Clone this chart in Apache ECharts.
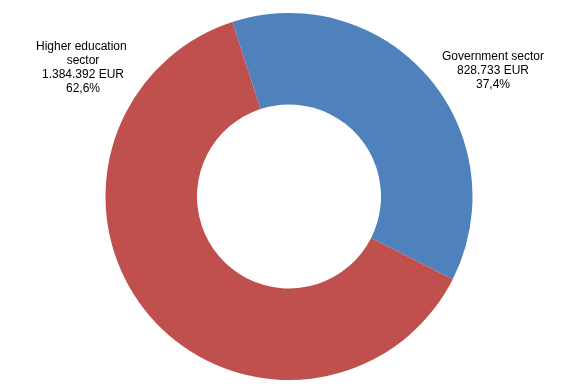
<!DOCTYPE html>
<html><head><meta charset="utf-8">
<script src="https://cdn.jsdelivr.net/npm/echarts@6/dist/echarts.min.js"></script>
<style>html,body{margin:0;padding:0;background:#fff}#c{width:583px;height:389px}</style>
</head><body><div id="c"></div>
<script>
const categories = ["Government sector", "Higher education sector"];
const values = [828733, 1384392];
const colors = ["#4F81BD", "#C0504D"];

const total = values.reduce((a, b) => a + b, 0);
function fmtNum(v) { return String(v).replace(/\B(?=(\d{3})+(?!\d))/g, "."); }
function fmtPct(v) { return (v / total * 100).toFixed(1).replace(".", ",") + "%"; }

const labelPos = [
  { x: 493, y: 71 },
  { x: 83, y: 68 }
];

const chart = echarts.init(document.getElementById('c'), null, { renderer: 'canvas' });
chart.setOption({
  animation: false,
  series: [{
    type: 'pie',
    center: [289, 196.5],
    radius: [92, 183.5],
    startAngle: 108,
    clockwise: true,
    data: categories.map((n, i) => ({ name: n, value: values[i], itemStyle: { color: colors[i] } })),
    label: {
      show: true,
      position: 'outside',
      formatter: p => p.name + "\n" + fmtNum(p.value) + " EUR\n" + fmtPct(p.value),
      fontFamily: 'Liberation Sans, Arial, sans-serif',
      fontSize: 12,
      lineHeight: 14,
      color: '#000',
      align: 'center',
      width: 112,
      overflow: 'break'
    },
    labelLine: { show: false },
    labelLayout: params => ({
      x: labelPos[params.dataIndex].x,
      y: labelPos[params.dataIndex].y,
      align: 'center',
      verticalAlign: 'middle'
    }),
    emphasis: { disabled: true }
  }]
});
</script></body></html>
